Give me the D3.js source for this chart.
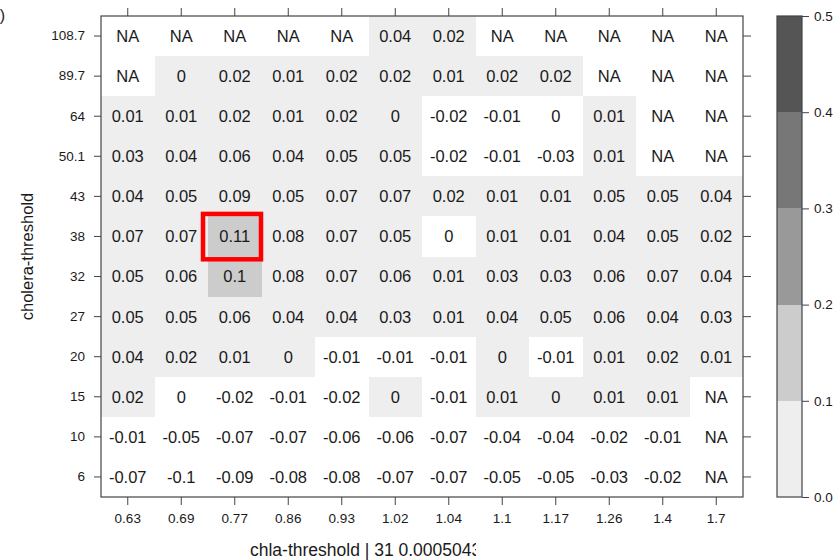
<!DOCTYPE html>
<html>
<head>
<meta charset="utf-8">
<script src="https://cdn.jsdelivr.net/npm/d3@7"></script>
<style>
  html, body { margin: 0; padding: 0; background: #fff; }
  svg { display: block; font-family: "Liberation Sans", Arial, Helvetica, sans-serif; }
</style>
</head>
<body>
<svg id="chart" width="835" height="560"></svg>
<script>
// Threshold categories
const chlaThresholds = ["0.63","0.69","0.77","0.86","0.93","1.02","1.04","1.1","1.17","1.26","1.4","1.7"];
const choleraThresholds = ["108.7","89.7","64","50.1","43","38","32","27","20","15","10","6"];

// Effect per (cholera row, chla column); null = NA
const effects = [
  [null, null, null, null, null, 0.04, 0.02, null, null, null, null, null],
  [null, 0, 0.02, 0.01, 0.02, 0.02, 0.01, 0.02, 0.02, null, null, null],
  [0.01, 0.01, 0.02, 0.01, 0.02, 0, -0.02, -0.01, -0.004, 0.01, null, null],
  [0.03, 0.04, 0.06, 0.04, 0.05, 0.05, -0.02, -0.01, -0.03, 0.01, null, null],
  [0.04, 0.05, 0.09, 0.05, 0.07, 0.07, 0.02, 0.01, 0.01, 0.05, 0.05, 0.04],
  [0.07, 0.07, 0.11, 0.08, 0.07, 0.05, -0.004, 0.01, 0.01, 0.04, 0.05, 0.02],
  [0.05, 0.06, 0.1, 0.08, 0.07, 0.06, 0.01, 0.03, 0.03, 0.06, 0.07, 0.04],
  [0.05, 0.05, 0.06, 0.04, 0.04, 0.03, 0.01, 0.04, 0.05, 0.06, 0.04, 0.03],
  [0.04, 0.02, 0.01, 0, -0.01, -0.01, -0.01, 0, -0.01, 0.01, 0.02, 0.01],
  [0.02, -0.004, -0.02, -0.01, -0.02, 0, -0.01, 0.01, 0, 0.01, 0.01, null],
  [-0.01, -0.05, -0.07, -0.07, -0.06, -0.06, -0.07, -0.04, -0.04, -0.02, -0.01, null],
  [-0.07, -0.1, -0.09, -0.08, -0.08, -0.07, -0.07, -0.05, -0.05, -0.03, -0.02, null]
];

// Colour key breaks and fills
const keyBreaks = [0, 0.1, 0.2, 0.3, 0.4, 0.5];
const keyFills = ["#eeeeee", "#cccccc", "#999999", "#777777", "#555555"];
const keyTickLabels = ["0.0", "0.1", "0.2", "0.3", "0.4", "0.5"];

// Highlighted cell
const highlight = { chla: "0.77", cholera: "38" };

const panelTag = "b)";
const xTitle = "chla-threshold | 31 0.0005043";
const yTitle = "cholera-threshold";

const svg = d3.select("#chart");
const plot = { left: 101, top: 16, width: 642, height: 481 };
const key = { left: 777, width: 25, top: 16, bottom: 497 };
const axisColor = "#444";
const textColor = "#1a1a1a";

const x = d3.scaleBand().domain(chlaThresholds).range([plot.left, plot.left + plot.width]);
const y = d3.scaleBand().domain(choleraThresholds).range([plot.top, plot.top + plot.height]);

const fill = d3.scaleThreshold()
  .domain(keyBreaks)
  .range([null, ...keyFills, null]);

const fmt = v => {
  const r = Math.round(v * 100) / 100;
  return String(r === 0 ? 0 : r);
};

const cells = [];
effects.forEach((row, i) => row.forEach((v, j) => {
  cells.push({ chla: chlaThresholds[j], cholera: choleraThresholds[i], value: v });
}));

// Shaded cells
svg.append("g")
  .selectAll("rect")
  .data(cells.filter(d => d.value !== null && fill(d.value)))
  .join("rect")
  .attr("x", d => x(d.chla))
  .attr("y", d => y(d.cholera))
  .attr("width", x.bandwidth())
  .attr("height", y.bandwidth())
  .attr("fill", d => fill(d.value))
  .attr("shape-rendering", "crispEdges");

// Cell labels
svg.append("g")
  .selectAll("text")
  .data(cells)
  .join("text")
  .attr("x", d => x(d.chla) + x.bandwidth() / 2)
  .attr("y", d => y(d.cholera) + y.bandwidth() / 2)
  .attr("dy", "0.36em")
  .attr("text-anchor", "middle")
  .attr("font-size", 16.5)
  .attr("fill", textColor)
  .text(d => d.value === null ? "NA" : fmt(d.value));

// Highlight frame
svg.append("rect")
  .attr("x", x(highlight.chla) - 5)
  .attr("y", y(highlight.cholera) - 2.5)
  .attr("width", x.bandwidth() + 4.5)
  .attr("height", y.bandwidth() + 5.3)
  .attr("fill", "none")
  .attr("stroke", "#ff0000")
  .attr("stroke-width", 4.5);

// Axes
function styleAxis(g, hideLabels) {
  g.select(".domain").remove();
  g.selectAll(".tick line").attr("stroke", axisColor);
  g.selectAll(".tick text")
    .attr("font-size", 13.5)
    .attr("fill", textColor)
    .attr("font-family", "Liberation Sans, Arial, sans-serif");
  if (hideLabels) g.selectAll(".tick text").remove();
}

svg.append("g")
  .attr("transform", `translate(0,${plot.top + plot.height})`)
  .call(d3.axisBottom(x).tickSize(8).tickPadding(8))
  .call(g => styleAxis(g, false));

svg.append("g")
  .attr("transform", `translate(0,${plot.top})`)
  .call(d3.axisTop(x).tickSize(8))
  .call(g => styleAxis(g, true));

svg.append("g")
  .attr("transform", `translate(${plot.left},0)`)
  .call(d3.axisLeft(y).tickSize(7).tickPadding(9))
  .call(g => styleAxis(g, false));

svg.append("g")
  .attr("transform", `translate(${plot.left + plot.width},0)`)
  .call(d3.axisRight(y).tickSize(8))
  .call(g => styleAxis(g, true));

// Panel frame
svg.append("rect")
  .attr("x", plot.left)
  .attr("y", plot.top)
  .attr("width", plot.width)
  .attr("height", plot.height)
  .attr("fill", "none")
  .attr("stroke", axisColor)
  .attr("stroke-width", 1.2);

// Colour key
const k = d3.scaleLinear().domain([0, 0.5]).range([key.bottom, key.top]);
const keyG = svg.append("g");
keyG.selectAll("rect")
  .data(keyFills.map((c, i) => ({ lo: keyBreaks[i], hi: keyBreaks[i + 1], c })))
  .join("rect")
  .attr("x", key.left)
  .attr("y", d => k(d.hi))
  .attr("width", key.width)
  .attr("height", d => k(d.lo) - k(d.hi))
  .attr("fill", d => d.c)
  .attr("shape-rendering", "crispEdges");
keyG.append("rect")
  .attr("x", key.left)
  .attr("y", key.top)
  .attr("width", key.width)
  .attr("height", key.bottom - key.top)
  .attr("fill", "none")
  .attr("stroke", axisColor)
  .attr("stroke-width", 1.2);
svg.append("g")
  .attr("transform", `translate(${key.left + key.width},0)`)
  .call(d3.axisRight(k).tickValues(keyBreaks).tickFormat((d, i) => keyTickLabels[i]).tickSize(7).tickPadding(5))
  .call(g => styleAxis(g, false));

// Axis titles
svg.append("defs").append("clipPath").attr("id", "xtitle-clip")
  .append("rect").attr("x", 0).attr("y", 530).attr("width", 476).attr("height", 30);
svg.append("text")
  .attr("clip-path", "url(#xtitle-clip)")
  .attr("x", 250)
  .attr("y", 556)
  .attr("font-size", 17.5)
  .attr("fill", textColor)
  .text(xTitle);

svg.append("text")
  .attr("transform", `translate(33,${plot.top + plot.height / 2}) rotate(-90)`)
  .attr("text-anchor", "middle")
  .attr("font-size", 16.5)
  .attr("fill", textColor)
  .text(yTitle);

// Panel tag
svg.append("text")
  .attr("x", 5)
  .attr("y", 21)
  .attr("text-anchor", "end")
  .attr("font-size", 16)
  .attr("fill", textColor)
  .text(panelTag);
</script>
</body>
</html>
